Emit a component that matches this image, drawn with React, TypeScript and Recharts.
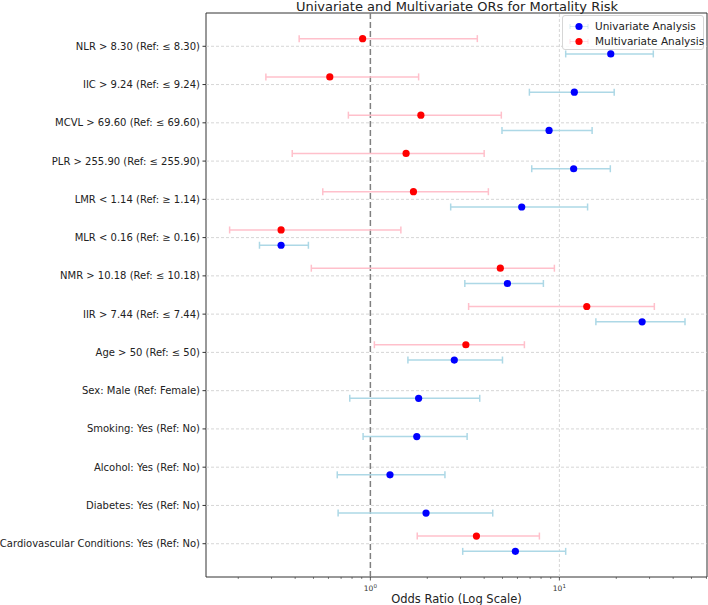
import React from "react";
import {
  ComposedChart,
  Scatter,
  ErrorBar,
  XAxis,
  YAxis,
  ReferenceLine,
  ReferenceArea,
} from "recharts";

const labels = [
  "NLR > 8.30 (Ref: ≤ 8.30)",
  "IIC > 9.24 (Ref: ≤ 9.24)",
  "MCVL > 69.60 (Ref: ≤ 69.60)",
  "PLR > 255.90 (Ref: ≤ 255.90)",
  "LMR < 1.14 (Ref: ≥ 1.14)",
  "MLR < 0.16 (Ref: ≥ 0.16)",
  "NMR > 10.18 (Ref: ≤ 10.18)",
  "IIR > 7.44 (Ref: ≤ 7.44)",
  "Age > 50 (Ref: ≤ 50)",
  "Sex: Male (Ref: Female)",
  "Smoking: Yes (Ref: No)",
  "Alcohol: Yes (Ref: No)",
  "Diabetes: Yes (Ref: No)",
  "Cardiovascular Conditions: Yes (Ref: No)",
];

const uniOR = [18.7, 12.0, 8.82, 11.9, 6.32, 0.337, 5.31, 27.4, 2.78, 1.8, 1.76, 1.27, 1.97, 5.85];
const uniLo = [10.8, 6.94, 4.97, 7.14, 2.66, 0.259, 3.16, 15.6, 1.58, 0.778, 0.915, 0.668, 0.675, 3.08];
const uniHi = [31.4, 19.5, 14.9, 18.6, 14.1, 0.47, 8.23, 46.2, 5.0, 3.79, 3.25, 2.48, 4.44, 10.8];

const multiOR = [0.91, 0.61, 1.85, 1.545, 1.69, 0.337, 4.87, 13.96, 3.2, null, null, null, null, 3.64];
const multiLo = [0.42, 0.28, 0.765, 0.386, 0.56, 0.18, 0.487, 3.31, 1.05, null, null, null, null, 1.77];
const multiHi = [3.68, 1.8, 4.93, 4.0, 4.21, 1.45, 9.41, 31.8, 6.53, null, null, null, null, 7.84];

const xTicks = [0.2, 0.3, 0.4, 0.5, 0.6, 0.7, 0.8, 0.9, 1, 2, 3, 4, 5, 6, 7, 8, 9, 10, 20, 30, 40, 50, 60];

const xDomain = [0.135, 60.4];
const yDomain = [-0.87, 13.87];

const uniData = labels.map((l, i) => ({
  name: l,
  pos: i + 0.2,
  or: uniOR[i],
  err: [uniOR[i] - uniLo[i], uniHi[i] - uniOR[i]],
}));

const multiData = labels
  .map((l, i) => ({
    name: l,
    pos: i - 0.2,
    or: multiOR[i],
    err: multiOR[i] == null ? null : [multiOR[i] - multiLo[i], multiHi[i] - multiOR[i]],
  }))
  .filter((d) => d.or != null);

const Dot = (color) => (props) => {
  const { cx, cy } = props;
  if (cx == null || cy == null) return null;
  return <circle cx={cx} cy={cy} r={3.6} fill={color} />;
};

const XTick = (props) => {
  const { x, y, payload } = props;
  const v = payload.value;
  const major = v === 1 || v === 10;
  return (
    <g>
      <line x1={x} x2={x} y1={y} y2={y + (major ? 3.5 : 2)} stroke="#333" strokeWidth={major ? 0.8 : 0.6} />
      {major && (
        <text x={x} y={y + 14} textAnchor="middle" fontSize={7.5} fill="#333">
          10
          <tspan dy={-3} fontSize={5.5}>
            {v === 1 ? "0" : "1"}
          </tspan>
        </text>
      )}
    </g>
  );
};

// y labels drawn by hand so the long one does not wrap
const YTick = (props) => {
  const { x, y, payload } = props;
  return (
    <text x={x} y={y} dy="0.355em" textAnchor="end" fontSize={10} fill="#222">
      {labels[payload.value] ?? ""}
    </text>
  );
};

function LegendBox() {
  const row = (color, bar, text, top) => (
    <div style={{ position: "absolute", left: 0, top, height: 15, width: "100%" }}>
      <svg width={28} height={15} style={{ position: "absolute", left: 2, top: 0 }}>
        <line x1={5} x2={23} y1={7.5} y2={7.5} stroke={bar} strokeWidth={0.8} opacity={0.6} />
        <line x1={5} x2={5} y1={5} y2={10} stroke={bar} strokeWidth={0.8} opacity={0.6} />
        <line x1={23} x2={23} y1={5} y2={10} stroke={bar} strokeWidth={0.8} opacity={0.6} />
        <circle cx={14} cy={7.5} r={3.6} fill={color} />
      </svg>
      <span style={{ position: "absolute", left: 32, top: 0, fontSize: 10.5, lineHeight: "15px", color: "#222", whiteSpace: "nowrap" }}>
        {text}
      </span>
    </div>
  );
  return (
    <div
      style={{
        position: "absolute",
        left: 562,
        top: 15,
        width: 140,
        height: 33,
        border: "1px solid #d6d6d6",
        borderRadius: 3,
        background: "rgba(255,255,255,0.85)",
      }}
    >
      {row("#0000ff", "#add8e6", "Univariate Analysis", 3)}
      {row("#ff0000", "#ffc0cb", "Multivariate Analysis", 18)}
    </div>
  );
}

export default function App() {
  return (
    <div
      style={{
        position: "absolute",
        left: 0,
        top: 0,
        width: 708,
        height: 605,
        background: "#fff",
        fontFamily: "DejaVu Sans, sans-serif",
        overflow: "hidden",
      }}
    >
      <div
        style={{
          position: "absolute",
          left: 206,
          width: 502,
          top: 0,
          lineHeight: "13px",
          textAlign: "center",
          fontSize: 13,
          color: "#222",
          whiteSpace: "nowrap",
        }}
      >
        Univariate and Multivariate ORs for Mortality Risk
      </div>
      <ComposedChart width={708} height={605} margin={{ top: 13, right: 1, bottom: 0, left: 0 }}>
        {labels.map((l, i) => (
          <ReferenceLine key={l} y={i} stroke="#cccccc" strokeDasharray="3 2" strokeWidth={0.8} />
        ))}
        <ReferenceLine x={10} stroke="#cccccc" strokeDasharray="3 2" strokeWidth={0.8} />
        <ReferenceLine x={1} stroke="#808080" strokeDasharray="6 3" strokeWidth={1.5} />
        <ReferenceArea
          x1={xDomain[0]}
          x2={xDomain[1]}
          y1={yDomain[0]}
          y2={yDomain[1]}
          fill="none"
          stroke="#333"
          strokeWidth={1}
          ifOverflow="visible"
        />
        <XAxis
          type="number"
          dataKey="or"
          scale="log"
          domain={xDomain}
          allowDataOverflow
          ticks={xTicks}
          interval={0}
          height={28}
          tickSize={0}
          tickMargin={0}
          tick={<XTick />}
          axisLine={false}
          label={{ value: "Odds Ratio (Log Scale)", position: "insideBottom", offset: 2, fontSize: 11.5, fill: "#222" }}
        />
        <YAxis
          type="number"
          dataKey="pos"
          domain={yDomain}
          reversed
          allowDataOverflow
          ticks={labels.map((_, i) => i)}
          interval={0}
          width={206}
          tickSize={3.5}
          tickMargin={2.5}
          axisLine={false}
          tickLine={{ stroke: "#333" }}
          tick={<YTick />}
        />
        <Scatter data={multiData} shape={Dot("#ff0000")} isAnimationActive={false}>
          <ErrorBar dataKey="err" direction="x" width={3.5} stroke="#ffc0cb" strokeWidth={1.5} />
        </Scatter>
        <Scatter data={uniData} shape={Dot("#0000ff")} isAnimationActive={false}>
          <ErrorBar dataKey="err" direction="x" width={3.5} stroke="#add8e6" strokeWidth={1.5} />
        </Scatter>
      </ComposedChart>
      <LegendBox />
    </div>
  );
}
